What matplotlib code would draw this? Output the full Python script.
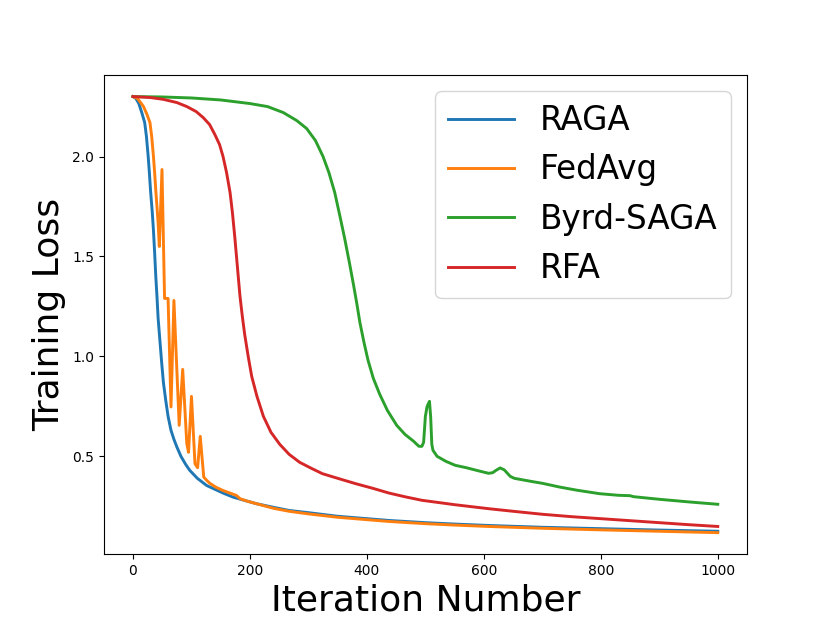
import matplotlib
matplotlib.use("Agg")
import matplotlib.pyplot as plt

raga_x = [0, 5, 10, 15, 20, 23, 26, 28, 30, 33, 35, 37, 39, 41, 43, 46, 49, 52, 56, 60, 65, 70, 75, 82, 90, 97, 110, 126, 140, 155, 171, 190, 211, 240, 267, 300, 350, 400, 438, 500, 550, 608, 700, 800, 900, 1000]
raga_y = [2.30, 2.29, 2.265, 2.22, 2.17, 2.10, 2.00, 1.92, 1.83, 1.72, 1.63, 1.52, 1.40, 1.30, 1.19, 1.08, 0.97, 0.87, 0.78, 0.70, 0.63, 0.585, 0.547, 0.50, 0.46, 0.43, 0.39, 0.354, 0.335, 0.315, 0.296, 0.28, 0.263, 0.245, 0.229, 0.218, 0.20, 0.188, 0.179, 0.168, 0.161, 0.154, 0.145, 0.138, 0.131, 0.125]

fedavg_x = [0, 8, 13, 18, 24, 29, 32, 35, 37, 39, 41, 43, 45, 49.6, 54, 60, 65, 70, 79, 85, 92, 95, 100, 106, 110.5, 115, 121, 126, 131, 142, 154, 166, 177, 183, 196, 211, 240, 267, 300, 350, 400, 438, 500, 550, 608, 700, 800, 900, 1000]
fedavg_y = [2.30, 2.29, 2.27, 2.25, 2.21, 2.17, 2.10, 2.00, 1.92, 1.83, 1.75, 1.667, 1.55, 1.935, 1.29, 1.29, 0.747, 1.28, 0.655, 0.935, 0.564, 0.52, 0.80, 0.463, 0.443, 0.60, 0.396, 0.38, 0.366, 0.345, 0.329, 0.316, 0.304, 0.288, 0.275, 0.263, 0.24, 0.225, 0.212, 0.195, 0.183, 0.174, 0.163, 0.156, 0.149, 0.14, 0.132, 0.125, 0.118]

byrd_x = [0, 50, 100, 150, 200, 230, 257, 280, 297, 312, 325, 335, 345, 354, 362, 370, 377, 383, 388, 395, 402, 411, 422, 435, 451, 465, 480, 489, 494, 497, 500, 503, 507, 509, 511, 513, 520, 535, 551, 570, 590, 608, 615, 622, 628, 635, 645, 652, 680, 700, 730, 760, 798, 830, 850, 856, 900, 950, 1000]
byrd_y = [2.30, 2.298, 2.293, 2.283, 2.265, 2.25, 2.22, 2.18, 2.14, 2.08, 2.00, 1.92, 1.82, 1.70, 1.59, 1.47, 1.36, 1.26, 1.17, 1.07, 0.98, 0.89, 0.81, 0.73, 0.655, 0.61, 0.575, 0.55, 0.55, 0.57, 0.70, 0.75, 0.775, 0.70, 0.56, 0.53, 0.50, 0.475, 0.455, 0.443, 0.428, 0.415, 0.418, 0.432, 0.442, 0.432, 0.40, 0.39, 0.375, 0.365, 0.346, 0.33, 0.313, 0.305, 0.303, 0.298, 0.285, 0.272, 0.26]

rfa_x = [0, 30, 52, 75, 92, 108, 120, 131, 140, 148, 154, 160, 166, 170, 174, 177, 180, 183, 187, 191, 197, 203, 212, 223, 236, 251, 267, 285, 305, 324, 350, 381, 410, 438, 466, 494, 550, 608, 650, 700, 750, 800, 850, 900, 950, 1000]
rfa_y = [2.30, 2.295, 2.286, 2.27, 2.25, 2.225, 2.195, 2.16, 2.11, 2.06, 2.00, 1.92, 1.82, 1.72, 1.60, 1.50, 1.40, 1.30, 1.20, 1.11, 1.00, 0.90, 0.80, 0.70, 0.62, 0.56, 0.51, 0.47, 0.44, 0.413, 0.39, 0.363, 0.34, 0.316, 0.297, 0.28, 0.258, 0.238, 0.225, 0.21, 0.198, 0.188, 0.178, 0.168, 0.158, 0.149]

labels = ["RAGA", "FedAvg", "Byrd-SAGA", "RFA"]

fig, ax = plt.subplots(figsize=(8.3, 6.23), dpi=100)
lw = 2.1
ax.plot(raga_x, raga_y, color="#1f77b4", lw=lw, label=labels[0])
ax.plot(fedavg_x, fedavg_y, color="#ff7f0e", lw=lw, label=labels[1])
ax.plot(byrd_x, byrd_y, color="#2ca02c", lw=lw, label=labels[2])
ax.plot(rfa_x, rfa_y, color="#d62728", lw=lw, label=labels[3])

ax.set_xlabel("Iteration Number", fontsize=26)
ax.set_ylabel("Training Loss", fontsize=26)
ax.legend(loc="upper right", fontsize=23.5)
fig.savefig("out.png", dpi=100)
